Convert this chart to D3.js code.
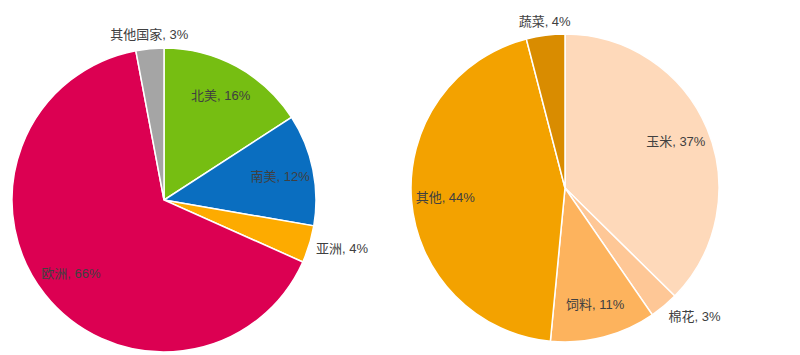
<!DOCTYPE html>
<meta charset="utf-8">
<html>
<head>
  <script src="https://cdn.jsdelivr.net/npm/d3@7"></script>
  <style>
    body { margin: 0; background: #fff; }
    text { font-family: "Liberation Sans", "Noto Sans CJK SC", sans-serif; font-size: 13px; fill: #404040; }
  </style>
</head>
<body>
  <svg id="svg" width="800" height="355"></svg>
  <script>
    // left pie: regions
    var regionNames = ["北美", "南美", "亚洲", "欧洲", "其他国家"];
    var regionValues = [16, 12, 4, 66, 3];
    var regionColors = ["#76be12", "#0a6ec0", "#fdab00", "#dc0052", "#a5a5a5"];
    var regionOutside = [false, false, true, false, true];

    // right pie: crops
    var cropNames = ["玉米", "棉花", "饲料", "其他", "蔬菜"];
    var cropValues = [37, 3, 11, 44, 4];
    var cropColors = ["#fed9ba", "#fec796", "#fdb35d", "#f3a200", "#d98c00"];
    var cropOutside = [false, true, false, false, true];

    var svg = d3.select("#svg");

    function drawPie(cx, cy, r, names, values, colors, outside) {
      var g = svg.append("g").attr("transform", "translate(" + cx + "," + cy + ")");
      var pie = d3.pie().sort(null).value(function (d) { return d; });
      var arcs = pie(values);
      var arc = d3.arc().innerRadius(0).outerRadius(r);

      g.selectAll("path")
        .data(arcs)
        .enter()
        .append("path")
        .attr("d", arc)
        .attr("fill", function (d, i) { return colors[i]; })
        .attr("stroke", "#fff")
        .attr("stroke-width", 1.5);

      // labels: inside ones along the mid angle, small slices outside
      g.selectAll("text")
        .data(arcs)
        .enter()
        .append("text")
        .attr("dominant-baseline", "central")
        .each(function (d, i) {
          var a = (d.startAngle + d.endAngle) / 2;
          var s = Math.sin(a), c = Math.cos(a);
          var x, y, anchor;
          if (outside[i]) {
            x = (r + 7) * s;
            y = -(r + 7) * c - c * 7;
            anchor = s > 0.3 ? "start" : (s < -0.3 ? "end" : "middle");
          } else {
            x = r * 0.78 * s;
            y = -r * 0.78 * c;
            anchor = "middle";
          }
          d3.select(this)
            .attr("x", x)
            .attr("y", y)
            .attr("text-anchor", anchor)
            .text(names[i] + ", " + values[i] + "%");
        });
    }

    drawPie(164, 200, 152, regionNames, regionValues, regionColors, regionOutside);
    drawPie(565, 188, 154, cropNames, cropValues, cropColors, cropOutside);
  </script>
</body>
</html>
